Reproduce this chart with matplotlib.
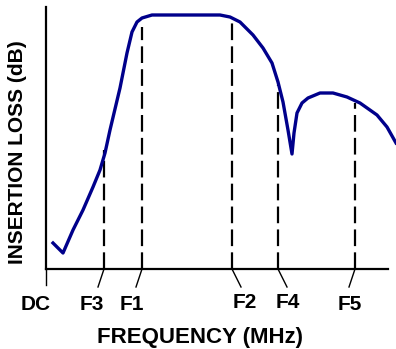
import matplotlib.pyplot as plt

# curve (x: frequency units, y: loss units, both arbitrary)
freq = [7, 17, 27, 37, 47, 54, 59, 64, 74, 81, 86, 91, 96, 106, 154, 174,
        184, 194, 207, 217, 226, 232, 237, 242, 246, 248, 251, 256, 262,
        274, 287, 301, 314, 331, 341, 350]
loss = [26, 16, 39, 59, 82, 99, 116, 139, 181, 216, 237, 247, 251, 254, 254, 254,
        252, 247, 234, 221, 206, 187, 167, 139, 115, 136, 156, 166, 171,
        176, 176, 172, 166, 154, 142, 126]

# marker frequencies, label positions and where the dashed lines stop
marks = ["F3", "F1", "F2", "F4", "F5"]
mark_x = [58, 96, 186, 232, 309]
mark_top = [119, 242, 252, 184, 166]
label_x = [46, 86, 199, 242, 304]
label_y = [-36, -36, -33, -34, -36]

W, H = 396, 349
fig = plt.figure(figsize=(W / 100, H / 100), dpi=100)
ax = fig.add_axes([46 / W, (H - 269) / H, 350 / W, 262 / H])
ax.set_xlim(0, 350)
ax.set_ylim(0, 262)

plt.rcParams['font.family'] = ['Liberation Sans', 'DejaVu Sans']
fam = ['Liberation Sans', 'DejaVu Sans']

for s in ['top', 'right']:
    ax.spines[s].set_visible(False)
ax.spines['left'].set_linewidth(1.6)
ax.spines['bottom'].set_linewidth(1.6)
ax.spines['bottom'].set_bounds(0, 342)
ax.set_xticks([])
ax.set_yticks([])
ax.patch.set_alpha(0)

ax.plot(freq, loss, color='#00008B', lw=2.4, clip_on=False, zorder=3,
        solid_joinstyle='round')

for x, top, lx, ly, name in zip(mark_x, mark_top, label_x, label_y, marks):
    ax.plot([x, x], [0, top], color='black', lw=1.6, ls=(0, (7.5, 2.8)))
    off = -6 if lx < x else 9
    ax.plot([x, x + off], [0, -18], color='black', lw=1.0, clip_on=False)
    ax.text(lx, ly, name, ha='center', va='center', fontsize=15,
            fontweight='bold', family=fam)

ax.plot([0, 0], [0, -16], color='black', lw=1.0, clip_on=False)
ax.text(-10, -36, "DC", ha='center', va='center', fontsize=15,
        fontweight='bold', family=fam)

fig.text(200 / W, 1 - 337 / H, "FREQUENCY (MHz)", ha='center', va='center',
         fontsize=16, fontweight='bold', family=fam)
fig.text(18 / W, 1 - 152 / H, "INSERTION LOSS (dB)", ha='center', va='center',
         rotation=90, fontsize=15, fontweight='bold', family=fam)

fig.savefig("out.png", dpi=100)
